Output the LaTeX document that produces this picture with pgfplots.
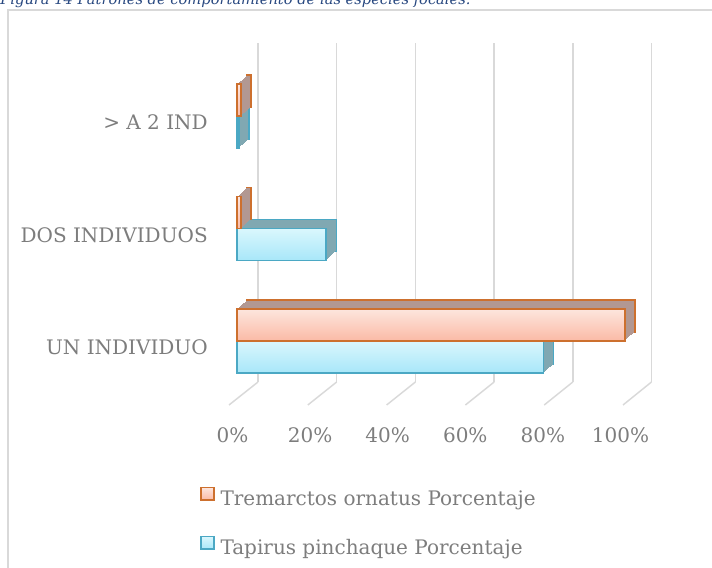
\documentclass[border=0pt]{standalone}
\usepackage{fontspec}
\setmainfont{DejaVu Serif}
\usepackage{pgfplots}
\pgfplotsset{compat=1.18}
\definecolor{tapTop}{RGB}{218,247,253}
\definecolor{tapMid}{RGB}{192,240,251}
\definecolor{tapBot}{RGB}{168,231,249}
\definecolor{tapEdge}{RGB}{75,168,196}
\definecolor{tapSide}{RGB}{128,168,178}
\definecolor{treTop}{RGB}{253,230,222}
\definecolor{treMid}{RGB}{252,208,194}
\definecolor{treBot}{RGB}{251,186,166}
\definecolor{treEdge}{RGB}{205,112,46}
\definecolor{treSide}{RGB}{178,152,146}
\definecolor{textgray}{RGB}{125,125,125}
\definecolor{gridc}{RGB}{217,217,217}
\definecolor{capblue}{RGB}{40,72,128}
\tikzset{
  extr/.style 2 args={
    preaction={draw=#2, fill=#1, line width=1.1pt, transform canvas={shift={(7.5pt,6.75pt)}}},
    preaction={draw=none, fill=#1, transform canvas={shift={(6.75pt,6.075pt)}}},
    preaction={draw=none, fill=#1, transform canvas={shift={(6pt,5.4pt)}}},
    preaction={draw=none, fill=#1, transform canvas={shift={(5.25pt,4.725pt)}}},
    preaction={draw=none, fill=#1, transform canvas={shift={(4.5pt,4.05pt)}}},
    preaction={draw=none, fill=#1, transform canvas={shift={(3.75pt,3.375pt)}}},
    preaction={draw=none, fill=#1, transform canvas={shift={(3pt,2.7pt)}}},
    preaction={draw=none, fill=#1, transform canvas={shift={(2.25pt,2.025pt)}}},
    preaction={draw=none, fill=#1, transform canvas={shift={(1.5pt,1.35pt)}}},
    preaction={draw=none, fill=#1, transform canvas={shift={(0.75pt,0.675pt)}}}
  },
  tapbar/.style={draw=tapEdge, fill=tapMid, line width=1.2pt, extr={tapSide}{tapEdge},
    postaction={draw=none, top color=tapTop, bottom color=tapBot},
    postaction={draw=tapEdge, fill=none, line width=1.2pt}},
  trebar/.style={draw=treEdge, fill=treMid, line width=1.2pt, extr={treSide}{treEdge},
    postaction={draw=none, top color=treTop, bottom color=treBot},
    postaction={draw=treEdge, fill=none, line width=1.2pt}}
}
\begin{document}
\begin{tikzpicture}
\useasboundingbox (0,0) rectangle (534pt,425.25pt);
\clip (0,0) rectangle (534pt,425.25pt);
% caption (cut at the top) and chart frame
\node[anchor=base west, inner sep=0pt, font=\itshape\fontsize{11}{13}\selectfont, text=capblue] at (0pt,421.5pt) {Figura 14 Patrones de comportamiento de las especies focales.};
\draw[gridc, line width=1.5pt] (6pt,-20pt) rectangle (560pt,417.75pt);
% back wall grid and floor lines
\foreach \bx/\fx in {193.5/171.75, 252.5/230.85, 311.55/289.95, 370.6/349.05, 429.6/408.15, 488.6/467.25}{
  \draw[gridc, line width=1.1pt] (\bx pt,138.75pt) -- (\bx pt,393pt);
  \draw[gridc, line width=1.1pt] (\bx pt,138.75pt) -- (\fx pt,121.5pt);
}
\begin{axis}[
  at={(177.75pt,127.5pt)}, anchor=south west,
  scale only axis, width=291pt, height=252.75pt,
  xmin=0, xmax=100, ymin=-0.5, ymax=2.5,
  clip=false,
  axis line style={draw=none}, major tick length=0pt, tick style={draw=none},
  xtick={0,20,40,60,80,100},
  xticklabels={0\%,20\%,40\%,60\%,80\%,100\%},
  ytick={0,1,2},
  yticklabels={UN INDIVIDUO,DOS INDIVIDUOS,{> A 2 IND}},
  ticklabel style={text=textgray, font=\fontsize{15}{18}\selectfont, inner sep=0pt},
  xticklabel style={anchor=center, yshift=-28.9pt, xshift=-3.4pt},
  yticklabel style={anchor=east, xshift=-21.75pt, yshift=-4.7pt},
  xbar, bar width=24pt,
  legend style={draw=none, fill=none, at={(-0.0954,-0.265)}, anchor=north west,
    inner sep=0pt, row sep=18.75pt, column sep=4.5pt,
    nodes={inner sep=0pt, text height=11pt, text depth=4pt, text=textgray, font=\fontsize{15}{18}\selectfont}},
  legend cell align=left,
]
% Tapirus pinchaque (lower bar of each pair)
\addplot[tapbar, bar shift=-12pt, forget plot] coordinates {(79,0)};
\addplot[tapbar, bar shift=-12pt, forget plot] coordinates {(23,1)};
\addplot[tapbar, bar shift=-12pt, forget plot] coordinates {(0.5,2)};
% Tremarctos ornatus (upper bar of each pair)
\addplot[trebar, bar shift=12pt, forget plot] coordinates {(100,0)};
\addplot[trebar, bar shift=12pt, forget plot] coordinates {(1,1)};
\addplot[trebar, bar shift=12pt, forget plot] coordinates {(1,2)};
\addlegendimage{legend image code/.code={\draw[draw=treEdge, line width=1.2pt, top color=treTop, bottom color=treBot] (0pt,0.5pt) rectangle (9.5pt,10pt);}}
\addlegendentry{Tremarctos ornatus Porcentaje}
\addlegendimage{legend image code/.code={\draw[draw=tapEdge, line width=1.2pt, top color=tapTop, bottom color=tapBot] (0pt,0.5pt) rectangle (9.5pt,10pt);}}
\addlegendentry{Tapirus pinchaque Porcentaje}
\end{axis}
\end{tikzpicture}
\end{document}
